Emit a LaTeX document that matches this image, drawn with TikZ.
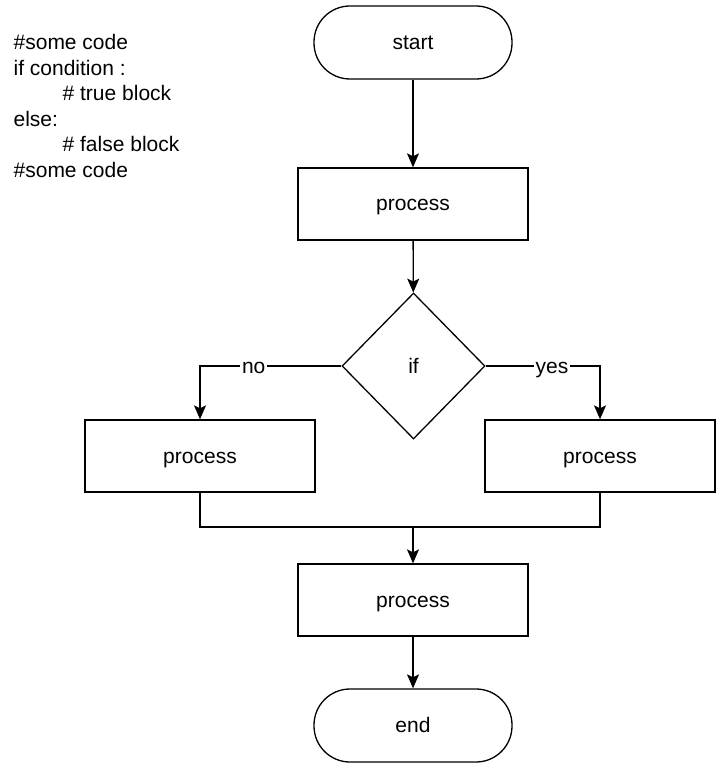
\documentclass[tikz,border=0pt]{standalone}
\usepackage{fontspec}
\setmainfont{Liberation Sans}
\usetikzlibrary{shapes.geometric,arrows.meta}

\begin{document}
\begin{tikzpicture}
        [x=0.5pt, y=-0.5pt, line width=0.65pt,
        font=\fontsize{10.5}{12.75}\selectfont,
        term/.style={rectangle, draw, rounded corners=18pt, minimum width=99pt, minimum height=36.5pt, text height=8pt, text depth=1pt},
        proc/.style={rectangle, draw, minimum width=115pt, minimum height=36pt, text height=8pt, text depth=1pt},
        decision/.style={diamond, draw, inner sep=0pt, minimum width=71.5pt, minimum height=73pt, text height=8pt, text depth=1pt},
        lbl/.style={fill=white, inner sep=1pt, text height=8pt, text depth=1pt},
        arr/.style={-{Stealth[length=7pt, width=6pt, inset=1.5pt]}}]
        \useasboundingbox (0,0) rectangle (724,764);

        \node[anchor=north west, align=left, inner sep=0pt] (code) at (13,34)
            {\#some code\\ if condition :\\ \hspace*{24.5pt}\# true block\\ else:\\ \hspace*{24.5pt}\# false block\\ \#some code};

        \node[term] (start) at (413,42.5) {start};
        \node[proc] (P1) at (413,204) {process};
        \node[decision] (IF) at (413.5,366) {if};
        \node[proc] (PN) at (200,456) {process};
        \node[proc] (PY) at (600,456) {process};
        \coordinate (J) at (413,527);
        \node[proc] (P2) at (413,600) {process};
        \node[term] (end) at (413,725.5) {end};

        \draw[arr] (start) -- (P1);
        \draw[arr] (P1) -- (IF);
        \draw[arr] (IF.west) -| (PN.north) node[lbl, pos=0.31] {no};
        \draw[arr] (IF.east) -| (PY.north) node[lbl, pos=0.29] {yes};
        \draw (PN.south) |- (J);
        \draw (PY.south) |- (J);
        \draw[arr] (J) -- (P2);
        \draw[arr] (P2) -- (end);

    \end{tikzpicture}
\end{document}
